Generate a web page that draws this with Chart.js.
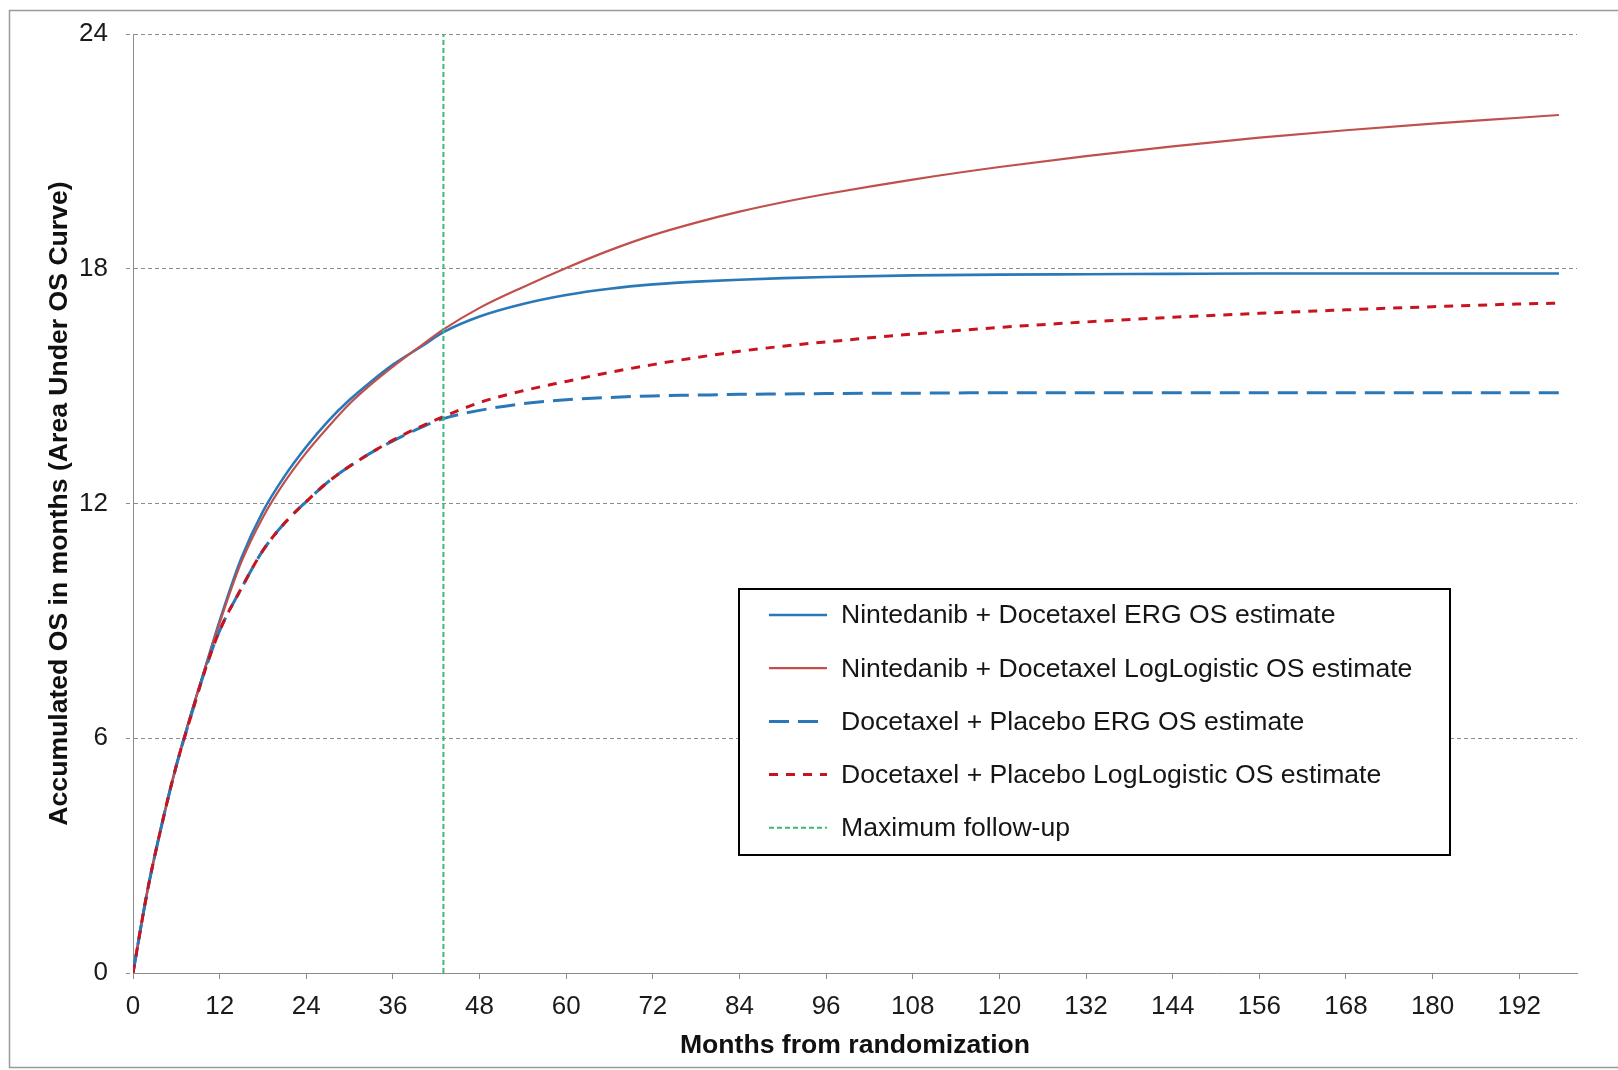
<!DOCTYPE html>
<html>
<head>
<meta charset="utf-8">
<title>Accumulated OS</title>
<script src="https://cdn.jsdelivr.net/npm/chart.js@4.4.1/dist/chart.umd.min.js"></script>
<style>
  html, body { margin: 0; padding: 0; background: #ffffff; }
  #wrap { position: relative; width: 1618px; height: 1070px; }
</style>
</head>
<body>
<div id="wrap"><canvas id="chart" width="1618" height="1070"></canvas></div>
<script>
// Months since randomization at which the curves are sampled
const months = [0, 2, 4, 6, 8, 10, 12, 15, 18, 21, 24, 27, 30, 33, 36, 40, 43, 48, 54, 60, 66, 72, 78, 84, 90, 96, 108, 120, 132, 144, 156, 168, 180, 192, 197.5];

// Accumulated OS (area under the OS curve, months)
const nintedanibErg = [0, 2.1, 3.8, 5.3, 6.6, 7.8, 9.0, 10.6, 11.8, 12.7, 13.45, 14.1, 14.65, 15.12, 15.55, 16.02, 16.38, 16.78, 17.1, 17.33, 17.49, 17.6, 17.67, 17.72, 17.76, 17.79, 17.83, 17.85, 17.86, 17.87, 17.88, 17.88, 17.88, 17.88, 17.88];
const nintedanibLogLogistic = [0, 2.1, 3.8, 5.3, 6.6, 7.8, 8.95, 10.5, 11.65, 12.55, 13.3, 13.95, 14.55, 15.05, 15.5, 16.05, 16.45, 17.0, 17.53, 18.02, 18.47, 18.86, 19.18, 19.46, 19.7, 19.91, 20.28, 20.6, 20.88, 21.13, 21.35, 21.54, 21.71, 21.86, 21.93];
const placeboErg = [0, 2.1, 3.8, 5.3, 6.55, 7.75, 8.75, 9.83, 10.8, 11.5, 12.05, 12.55, 12.95, 13.3, 13.6, 13.95, 14.17, 14.38, 14.55, 14.65, 14.71, 14.75, 14.77, 14.79, 14.8, 14.81, 14.82, 14.83, 14.83, 14.83, 14.83, 14.83, 14.83, 14.83, 14.83];
const placeboLogLogistic = [0, 2.1, 3.8, 5.3, 6.55, 7.75, 8.75, 9.83, 10.8, 11.5, 12.05, 12.55, 12.95, 13.3, 13.62, 13.98, 14.22, 14.58, 14.88, 15.12, 15.35, 15.55, 15.73, 15.89, 16.02, 16.13, 16.33, 16.5, 16.64, 16.76, 16.86, 16.95, 17.03, 17.1, 17.12];

// Maximum follow-up of the trial (months)
const maxFollowUp = 43;

// Axis ranges and ticks
const xMax = 200;
const xStep = 12;
const yMax = 24;
const yStep = 6;

const seriesLabels = [
  'Nintedanib + Docetaxel ERG OS estimate',
  'Nintedanib + Docetaxel LogLogistic OS estimate',
  'Docetaxel + Placebo ERG OS estimate',
  'Docetaxel + Placebo LogLogistic OS estimate',
  'Maximum follow-up'
];

const FONT = "'Liberation Sans', Arial, Helvetica, sans-serif";
const GRID = '#8c8c8c';

const toPoints = vals => vals.map((v, i) => ({ x: months[i], y: v }));

// White page with a thin grey frame
const framePlugin = {
  id: 'frame',
  beforeDraw(chart) {
    const ctx = chart.ctx;
    ctx.save();
    ctx.fillStyle = '#ffffff';
    ctx.fillRect(0, 0, chart.width, chart.height);
    ctx.strokeStyle = '#9a9a9a';
    ctx.lineWidth = 1.5;
    ctx.strokeRect(9.5, 10.5, chart.width + 10, chart.height - 13);
    ctx.restore();
  }
};

// Boxed legend drawn inside the plot area, using each dataset's own style
const boxLegendPlugin = {
  id: 'boxLegend',
  afterDraw(chart) {
    const ctx = chart.ctx;
    const box = { left: 739, top: 589, width: 711, height: 266 };
    const firstRow = 615;
    const rowGap = 53.2;
    ctx.save();
    ctx.fillStyle = '#ffffff';
    ctx.fillRect(box.left, box.top, box.width, box.height);
    ctx.lineWidth = 2;
    ctx.strokeStyle = '#000000';
    ctx.setLineDash([]);
    ctx.strokeRect(box.left, box.top, box.width, box.height);
    chart.data.datasets.forEach((ds, i) => {
      const y = firstRow + i * rowGap;
      ctx.save();
      ctx.strokeStyle = ds.borderColor;
      ctx.lineWidth = ds.borderWidth;
      ctx.setLineDash(ds.borderDash || []);
      ctx.beginPath();
      ctx.moveTo(769, y);
      ctx.lineTo(827, y);
      ctx.stroke();
      ctx.restore();
      ctx.fillStyle = '#151515';
      ctx.font = '26.6px ' + FONT;
      ctx.textBaseline = 'middle';
      ctx.textAlign = 'left';
      ctx.fillText(ds.label, 841, y + 1);
    });
    ctx.restore();
  }
};

const lineDefaults = {
  pointRadius: 0,
  pointHoverRadius: 0,
  fill: false,
  cubicInterpolationMode: 'monotone'
};

new Chart(document.getElementById('chart'), {
  type: 'line',
  data: {
    datasets: [
      Object.assign({}, lineDefaults, {
        label: seriesLabels[0], data: toPoints(nintedanibErg),
        borderColor: '#2a78b8', borderWidth: 2.6, borderDash: [], order: 5
      }),
      Object.assign({}, lineDefaults, {
        label: seriesLabels[1], data: toPoints(nintedanibLogLogistic),
        borderColor: '#c0504d', borderWidth: 2.2, borderDash: [], order: 4
      }),
      Object.assign({}, lineDefaults, {
        label: seriesLabels[2], data: toPoints(placeboErg),
        borderColor: '#2a78b8', borderWidth: 3, borderDash: [20, 9], order: 3
      }),
      Object.assign({}, lineDefaults, {
        label: seriesLabels[3], data: toPoints(placeboLogLogistic),
        borderColor: '#c8141f', borderWidth: 3, borderDash: [9, 8], order: 2
      }),
      Object.assign({}, lineDefaults, {
        label: seriesLabels[4],
        data: [{ x: maxFollowUp, y: 0 }, { x: maxFollowUp, y: yMax }],
        borderColor: '#3cb878', borderWidth: 2, borderDash: [5, 3], order: 1,
        cubicInterpolationMode: 'default', tension: 0
      })
    ]
  },
  options: {
    responsive: false,
    animation: false,
    devicePixelRatio: 1,
    layout: { padding: { left: 0, top: 34, right: 41, bottom: 0 } },
    plugins: {
      legend: { display: false },
      tooltip: { enabled: false }
    },
    scales: {
      x: {
        type: 'linear',
        min: 0,
        max: xMax,
        afterFit: scale => { scale.height = 97; },
        ticks: {
          stepSize: xStep,
          includeBounds: false,
          autoSkip: false,
          maxRotation: 0,
          padding: 12,
          color: '#1a1a1a',
          font: { family: FONT, size: 26 }
        },
        grid: {
          drawOnChartArea: false,
          drawTicks: true,
          tickLength: 6,
          color: GRID,
          tickColor: GRID,
          lineWidth: 1
        },
        border: { display: true, color: GRID, width: 1 },
        title: {
          display: true,
          text: 'Months from randomization',
          color: '#111111',
          font: { family: FONT, size: 26.6, weight: 'bold' },
          padding: { top: 0, bottom: 8 }
        }
      },
      y: {
        type: 'linear',
        min: 0,
        max: yMax,
        afterFit: scale => { scale.width = 133; },
        ticks: {
          stepSize: yStep,
          padding: 18,
          color: '#1a1a1a',
          font: { family: FONT, size: 26 }
        },
        grid: {
          color: GRID,
          lineWidth: 1,
          tickLength: 7,
          tickColor: GRID,
          tickBorderDash: [4, 3]
        },
        border: { display: true, color: GRID, width: 1, dash: [4, 3] },
        title: {
          display: true,
          text: 'Accumulated OS in months (Area Under OS Curve)',
          color: '#111111',
          font: { family: FONT, size: 26.6, weight: 'bold' },
          padding: { top: 44, bottom: 0 }
        }
      }
    }
  },
  plugins: [framePlugin, boxLegendPlugin]
});
</script>
</body>
</html>
